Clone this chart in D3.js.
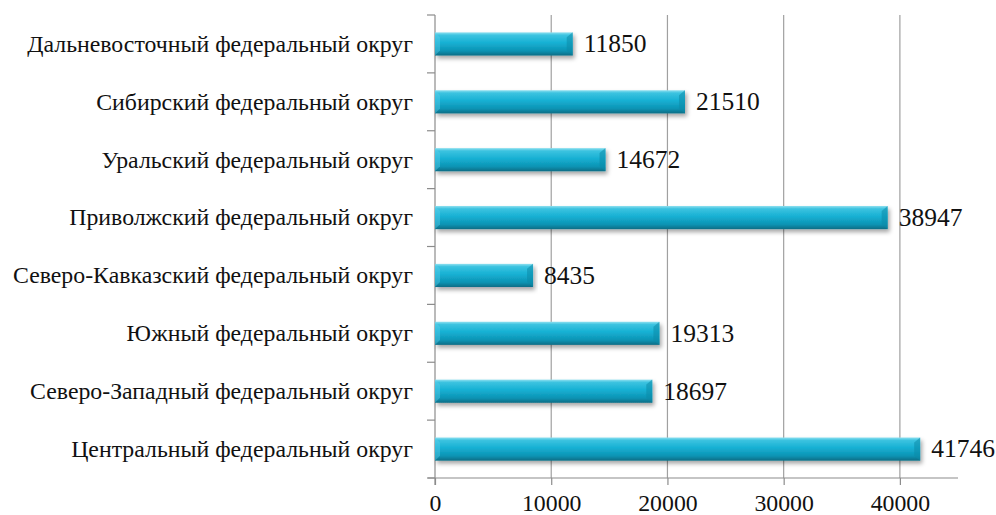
<!DOCTYPE html>
<html><head><meta charset="utf-8">
<script src="https://cdn.jsdelivr.net/npm/d3@7/dist/d3.min.js"></script>
<style>body{margin:0;background:#fff}svg{display:block}</style>
</head><body>
<svg id="c" width="996" height="515"></svg>
<script>
const categories = [
  "Дальневосточный федеральный округ",
  "Сибирский федеральный округ",
  "Уральский федеральный округ",
  "Приволжский федеральный округ",
  "Северо-Кавказский федеральный округ",
  "Южный федеральный округ",
  "Северо-Западный федеральный округ",
  "Центральный федеральный округ"
];
const values = [11850, 21510, 14672, 38947, 8435, 19313, 18697, 41746];
const xTicks = [0, 10000, 20000, 30000, 40000];

const svg = d3.select("#c");
const x = d3.scaleLinear().domain([0, 45000]).range([435, 958]);
const y = d3.scaleBand().domain(categories).range([15, 478]).paddingInner(0.6).paddingOuter(0.3);
const band = d3.scaleBand().domain(categories).range([15, 478]);
const FONT = '"Liberation Serif"';

const defs = svg.append("defs");
const g = defs.append("linearGradient").attr("id","bar").attr("x1",0).attr("y1",0).attr("x2",0).attr("y2",1);
[[0,"#8fe0f0"],[0.12,"#3cc3e0"],[0.45,"#16b0d3"],[0.8,"#0d93b3"],[1,"#086d85"]].forEach(s=>g.append("stop").attr("offset",s[0]).attr("stop-color",s[1]));
const f = defs.append("filter").attr("id","sh").attr("x","-5%").attr("y","-30%").attr("width","110%").attr("height","180%");
f.append("feDropShadow").attr("dx",2).attr("dy",3).attr("stdDeviation",2.2).attr("flood-color","#000").attr("flood-opacity",0.35);

// gridlines
svg.append("g").selectAll("line").data(xTicks.slice(1)).join("line")
  .attr("x1",d=>x(d)).attr("x2",d=>x(d)).attr("y1",15).attr("y2",478)
  .attr("stroke","#a0a0a0").attr("stroke-width",1.2);

// x axis
const xa = svg.append("g").attr("transform","translate(0,478)")
  .call(d3.axisBottom(x).tickValues(xTicks).tickFormat(d3.format("d")).tickSize(7).tickPadding(9).tickSizeOuter(0));
xa.select(".domain").remove();
xa.attr("font-family",null).attr("font-size",null);
xa.append("line").attr("x1",428).attr("x2",958).attr("stroke","#8c8c8c").attr("stroke-width",1.2);
xa.selectAll(".tick line").attr("stroke","#8c8c8c").attr("stroke-width",1.2);
xa.selectAll("text").attr("fill","#111").style("font-family",FONT).style("font-size","23.8px");

// y axis
const ya = svg.append("g");
ya.append("line").attr("x1",435).attr("x2",435).attr("y1",15).attr("y2",485).attr("stroke","#8c8c8c").attr("stroke-width",1.2);
const bounds = categories.map(c=>band(c)).concat([478]);
ya.selectAll("line.t").data(bounds).join("line").attr("class","t")
  .attr("x1",427).attr("x2",435).attr("y1",d=>d).attr("y2",d=>d).attr("stroke","#8c8c8c").attr("stroke-width",1.2);
ya.selectAll("text").data(categories).join("text")
  .attr("x",413).attr("y",d=>band(d)+band.bandwidth()/2).attr("dy","0.33em")
  .attr("text-anchor","end").attr("fill","#111")
  .style("font-family",FONT).style("font-size","23.8px")
  .text(d=>d);

// bars
const bars = svg.append("g").selectAll("g").data(categories).join("g");
bars.append("rect").attr("x",x(0)).attr("y",d=>y(d)).attr("height",y.bandwidth())
  .attr("width",(d,i)=>x(values[i])-x(0)).attr("fill","url(#bar)").attr("filter","url(#sh)");
bars.append("path").attr("d",(d,i)=>{
  const xe=x(values[i]), yt=y(d), h=y.bandwidth();
  return `M${xe},${yt}L${xe-6},${yt+5}L${xe-6},${yt+h-5}L${xe},${yt+h}Z`;
}).attr("fill","#0c8aa8").attr("opacity",0.55);
bars.append("path").attr("d",(d,i)=>{
  const x0=x(0), yt=y(d), h=y.bandwidth();
  return `M${x0},${yt}L${x0+5},${yt+5}L${x0+5},${yt+h-5}L${x0},${yt+h}Z`;
}).attr("fill","#5fd0ea").attr("opacity",0.4);

// value labels
svg.append("g").selectAll("text").data(categories).join("text")
  .attr("x",(d,i)=>x(values[i])+11).attr("y",d=>y(d)+y.bandwidth()/2).attr("dy","0.33em")
  .attr("fill","#111").style("font-family",FONT).style("font-size","25.5px")
  .text((d,i)=>values[i]);
</script>
</body></html>
